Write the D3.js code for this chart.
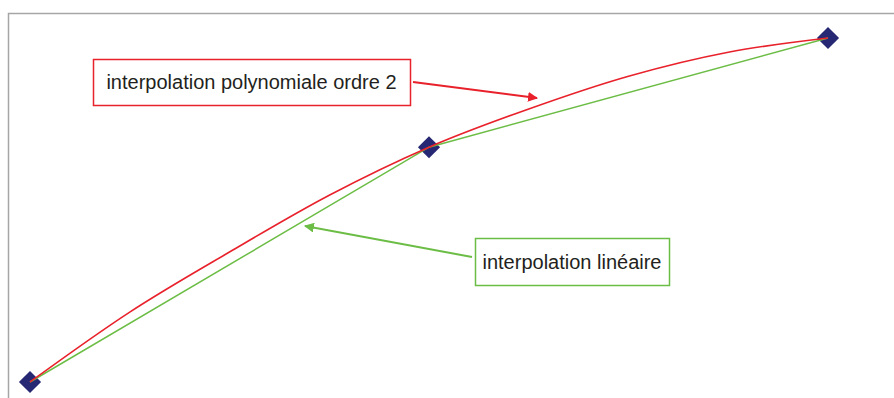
<!DOCTYPE html>
<html lang="fr">
<head>
<meta charset="UTF-8">
<title>Interpolation</title>
<script src="https://cdnjs.cloudflare.com/ajax/libs/d3/7.8.5/d3.min.js"></script>
<style>
  body { margin: 0; background: #fff; font-family: "Liberation Sans", Arial, sans-serif; }
</style>
</head>
<body>
<div id="chart"></div>
<script>
// known points
const knotX = [0, 1, 2];
const knotY = [0, 2.15, 3.15];

// polynomial (order 2) curve
const polyX = [0, 0.25, 0.5, 0.75, 1, 1.25, 1.5, 1.75, 2];
const polyY = [0, 0.64, 1.19, 1.71, 2.15, 2.5, 2.8, 3.02, 3.15];

const labels = ["interpolation polynomiale ordre 2", "interpolation linéaire"];

const width = 894, height = 398;

const svg = d3.select("#chart").append("svg")
  .attr("width", width)
  .attr("height", height);

const x = d3.scaleLinear().domain([0, 2]).range([30, 828]);
const y = d3.scaleLinear().domain([0, 3.15]).range([382, 38]);

// frame (top + left edges of plot area)
svg.append("path")
  .attr("d", `M${width},13.5 H8.5 V${height}`)
  .attr("fill", "none")
  .attr("stroke", "#a6a6a6")
  .attr("stroke-width", 1.5);

const knots = knotX.map((d, i) => [d, knotY[i]]);
const poly = polyX.map((d, i) => [d, polyY[i]]);

// diamonds
svg.selectAll(".knot")
  .data(knots)
  .enter().append("path")
  .attr("class", "knot")
  .attr("d", d3.symbol().type(d3.symbolSquare).size(245))
  .attr("transform", d => `translate(${x(d[0])},${y(d[1])}) rotate(45)`)
  .attr("fill", "#262873");

const line = d3.line().x(d => x(d[0])).y(d => y(d[1]));

svg.append("path")
  .datum(knots)
  .attr("d", line)
  .attr("fill", "none")
  .attr("stroke", "#6cbd45")
  .attr("stroke-width", 1.5);

svg.append("path")
  .datum(poly)
  .attr("d", line.curve(d3.curveMonotoneX))
  .attr("fill", "none")
  .attr("stroke", "#e8212b")
  .attr("stroke-width", 1.6);

// annotations
const defs = svg.append("defs");
function marker(id, color) {
  defs.append("marker")
    .attr("id", id)
    .attr("viewBox", "0 0 10 10")
    .attr("refX", 9).attr("refY", 5)
    .attr("markerWidth", 5).attr("markerHeight", 5)
    .attr("orient", "auto")
    .append("path")
    .attr("d", "M0,0 L10,5 L0,10 z")
    .attr("fill", color);
}
marker("arrRed", "#e8212b");
marker("arrGreen", "#6cbd45");

const notes = [
  { text: labels[0], color: "#e8212b", box: [93, 59, 317, 46], from: [413, 82], to: [537, 98], mk: "arrRed" },
  { text: labels[1], color: "#6cbd45", box: [475, 238, 194, 47], from: [472, 257], to: [305, 226], mk: "arrGreen" }
];

notes.forEach(n => {
  svg.append("rect")
    .attr("x", n.box[0] + 0.5).attr("y", n.box[1] + 0.5)
    .attr("width", n.box[2]).attr("height", n.box[3])
    .attr("fill", "#fff")
    .attr("stroke", n.color)
    .attr("stroke-width", 1.5);
  svg.append("text")
    .attr("x", n.box[0] + n.box[2] / 2)
    .attr("y", n.box[1] + n.box[3] / 2 + 7)
    .attr("text-anchor", "middle")
    .attr("font-size", 20)
    .attr("fill", "#231f20")
    .text(n.text);
  svg.append("line")
    .attr("x1", n.from[0]).attr("y1", n.from[1])
    .attr("x2", n.to[0]).attr("y2", n.to[1])
    .attr("stroke", n.color)
    .attr("stroke-width", 2)
    .attr("marker-end", `url(#${n.mk})`);
});
</script>
</body>
</html>
